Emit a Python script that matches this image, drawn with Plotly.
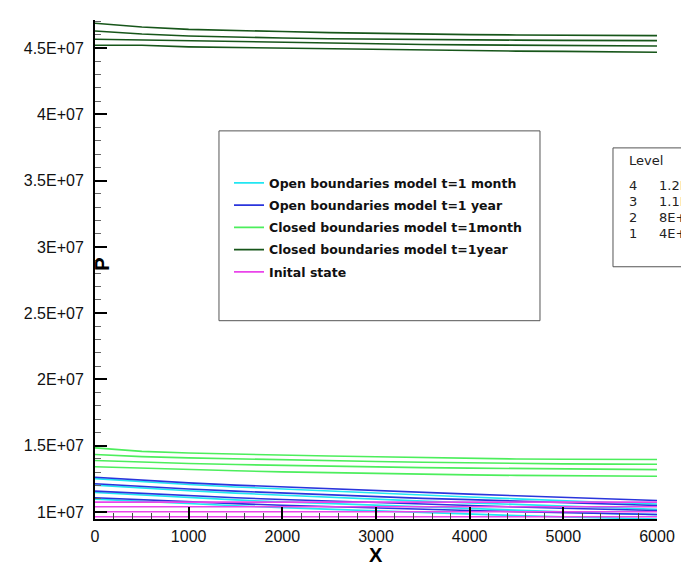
import plotly.graph_objects as go

# ---------------- data ----------------
x_pos = [0, 500, 1000, 1500, 2000, 2500, 3000, 3500, 4000, 4500, 5000, 5500, 6000]

# Open boundaries model t=1 month (cyan), 4 contour levels
open_month = [
    [1.252e7, 1.228e7, 1.207e7, 1.189e7, 1.173e7, 1.159e7, 1.141e7, 1.126e7, 1.113e7, 1.099e7, 1.084e7, 1.071e7, 1.060e7],
    [1.203e7, 1.180e7, 1.160e7, 1.142e7, 1.126e7, 1.112e7, 1.096e7, 1.082e7, 1.069e7, 1.056e7, 1.043e7, 1.031e7, 1.021e7],
    [1.147e7, 1.127e7, 1.108e7, 1.091e7, 1.076e7, 1.063e7, 1.049e7, 1.036e7, 1.024e7, 1.012e7, 1.000e7, 0.989e7, 0.980e7],
    [1.097e7, 1.079e7, 1.062e7, 1.047e7, 1.033e7, 1.020e7, 1.007e7, 0.995e7, 0.984e7, 0.973e7, 0.963e7, 0.954e7, 0.946e7],
]
# Open boundaries model t=1 year (blue)
open_year = [
    [1.262e7, 1.240e7, 1.220e7, 1.203e7, 1.189e7, 1.176e7, 1.158e7, 1.145e7, 1.135e7, 1.122e7, 1.109e7, 1.097e7, 1.087e7],
    [1.213e7, 1.192e7, 1.173e7, 1.157e7, 1.143e7, 1.130e7, 1.115e7, 1.103e7, 1.093e7, 1.081e7, 1.069e7, 1.058e7, 1.049e7],
    [1.157e7, 1.139e7, 1.122e7, 1.107e7, 1.094e7, 1.082e7, 1.069e7, 1.058e7, 1.049e7, 1.038e7, 1.028e7, 1.019e7, 1.011e7],
    [1.107e7, 1.091e7, 1.076e7, 1.063e7, 1.051e7, 1.040e7, 1.029e7, 1.019e7, 1.011e7, 1.002e7, 0.994e7, 0.987e7, 0.981e7],
]
# Closed boundaries model t=1month (light green)
closed_month = [
    [1.484e7, 1.457e7, 1.445e7, 1.437e7, 1.427e7, 1.422e7, 1.417e7, 1.410e7, 1.404e7, 1.400e7, 1.398e7, 1.396e7, 1.396e7],
    [1.434e7, 1.418e7, 1.408e7, 1.400e7, 1.392e7, 1.386e7, 1.381e7, 1.375e7, 1.370e7, 1.366e7, 1.363e7, 1.361e7, 1.360e7],
    [1.388e7, 1.375e7, 1.366e7, 1.358e7, 1.351e7, 1.345e7, 1.340e7, 1.335e7, 1.331e7, 1.327e7, 1.324e7, 1.322e7, 1.320e7],
    [1.341e7, 1.330e7, 1.320e7, 1.311e7, 1.303e7, 1.296e7, 1.290e7, 1.284e7, 1.280e7, 1.276e7, 1.273e7, 1.271e7, 1.270e7],
]
# Closed boundaries model t=1year (dark green)
closed_year = [
    [4.688e7, 4.660e7, 4.642e7, 4.632e7, 4.626e7, 4.618e7, 4.612e7, 4.605e7, 4.603e7, 4.600e7, 4.598e7, 4.596e7, 4.595e7],
    [4.630e7, 4.607e7, 4.592e7, 4.583e7, 4.577e7, 4.572e7, 4.568e7, 4.565e7, 4.563e7, 4.561e7, 4.559e7, 4.558e7, 4.557e7],
    [4.568e7, 4.562e7, 4.555e7, 4.548e7, 4.542e7, 4.537e7, 4.532e7, 4.528e7, 4.525e7, 4.523e7, 4.521e7, 4.519e7, 4.517e7],
    [4.522e7, 4.522e7, 4.510e7, 4.505e7, 4.499e7, 4.495e7, 4.491e7, 4.486e7, 4.481e7, 4.478e7, 4.476e7, 4.473e7, 4.470e7],
]
# Inital state (magenta), constant levels
initial_state = [1.074e7, 1.039e7, 1.002e7, 0.964e7]

series_names = [
    "Open boundaries model t=1 month",
    "Open boundaries model t=1 year",
    "Closed boundaries model t=1month",
    "Closed boundaries model t=1year",
    "Inital state",
]

y_tick_vals = [1e7, 1.5e7, 2e7, 2.5e7, 3e7, 3.5e7, 4e7, 4.5e7]
y_tick_text = ["1E+07", "1.5E+07", "2E+07", "2.5E+07", "3E+07", "3.5E+07", "4E+07", "4.5E+07"]
x_tick_vals = [0, 1000, 2000, 3000, 4000, 5000, 6000]

level_ids = ["4", "3", "2", "1"]
level_vals = ["1.2E+07", "1.1E+07", "8E+06", "4E+06"]

# ---------------- styles ----------------
colors = ["#22e6f2", "#2a35dc", "#4cee5c", "#17561a", "#ea44ea"]

fig = go.Figure()

groups = [open_month, open_year, closed_month, closed_year,
          [[v] * len(x_pos) for v in initial_state]]

for gi, (name, lines, col) in enumerate(zip(series_names, groups, colors)):
    for li, ys in enumerate(lines):
        fig.add_trace(go.Scatter(
            x=x_pos, y=ys, mode="lines",
            line=dict(color=col, width=1.6),
            name=name, legendgroup=f"g{gi}",
            showlegend=(li == 0), hoverinfo="skip",
        ))

tick_font = dict(family="Liberation Sans, Arial, sans-serif", size=16, color="#111")

fig.update_layout(
    width=681, height=567,
    margin=dict(l=95, r=24, t=20, b=47.5),
    paper_bgcolor="white", plot_bgcolor="white",
    showlegend=True,
    legend=dict(
        x=(229 - 95) / 562, y=0.703, xanchor="left", yanchor="top",
        bgcolor="rgba(0,0,0,0)", borderwidth=0,
        tracegroupgap=3, traceorder="grouped",
        font=dict(family="DejaVu Sans, sans-serif", size=12.5, color="#111", weight="bold"),
    ),
    xaxis=dict(
        range=[0, 6000], showgrid=False, zeroline=False, automargin=False,
        showline=True, linecolor="black", linewidth=2,
        tickmode="array", tickvals=x_tick_vals,
        ticks="inside", ticklen=12, tickwidth=2, tickcolor="black",
        tickfont=tick_font, ticklabelstandoff=2,
        minor=dict(tickmode="linear", tick0=0, dtick=200, ticks="inside",
                   ticklen=6, tickwidth=1, tickcolor="#444"),
    ),
    yaxis=dict(
        range=[9.47e6, 4.713e7], showgrid=False, zeroline=False, automargin=False,
        showline=True, linecolor="black", linewidth=2,
        tickmode="array", tickvals=y_tick_vals, ticktext=y_tick_text,
        ticks="inside", ticklen=12, tickwidth=2, tickcolor="black",
        tickfont=tick_font, ticklabelstandoff=6,
        minor=dict(tickmode="linear", tick0=0, dtick=1e6, ticks="inside",
                   ticklen=6, tickwidth=1, tickcolor="#666"),
    ),
)

# legend frame
fig.add_shape(type="rect", xref="paper", yref="paper",
              x0=0.2206, x1=0.7918, y0=0.3974, y1=0.7778,
              line=dict(color="#555", width=1), fillcolor="rgba(0,0,0,0)")

# Level box (clipped by page edge)
fig.add_shape(type="rect", xref="paper", yref="paper",
              x0=0.9217, x1=1.25, y0=0.5055, y1=0.7437,
              line=dict(color="#555", width=1), fillcolor="white")

lvl_font = dict(family="DejaVu Sans, sans-serif", size=13, color="#222")
fig.add_annotation(xref="paper", yref="paper", x=(627 - 95) / 562, y=(519.5 - 161) / 499.5,
                   text="Level", showarrow=False, xanchor="left", yanchor="middle", font=lvl_font)
for i, (lid, lv) in enumerate(zip(level_ids, level_vals)):
    yy = (519.5 - (186 + 16 * i)) / 499.5
    fig.add_annotation(xref="paper", yref="paper", x=(627 - 95) / 562, y=yy,
                       text=lid, showarrow=False, xanchor="left", yanchor="middle", font=lvl_font)
    fig.add_annotation(xref="paper", yref="paper", x=(657 - 95) / 562, y=yy,
                       text=lv, showarrow=False, xanchor="left", yanchor="middle", font=lvl_font)

# axis titles
title_font = dict(family="Liberation Sans, Arial, sans-serif", size=20, color="black")
fig.add_annotation(xref="paper", yref="paper", x=(376 - 95) / 562, y=(519.5 - 556) / 499.5,
                   text="<b>X</b>", showarrow=False, xanchor="center", yanchor="middle", font=title_font)
fig.add_annotation(xref="paper", yref="paper", x=(102 - 95) / 562, y=(519.5 - 265) / 499.5,
                   text="<b>P</b>", showarrow=False, xanchor="center", yanchor="middle",
                   textangle=-90, font=title_font)

fig.write_html("out.html", config={"displayModeBar": False},
               post_script="document.body.style.margin='0';document.body.style.padding='0';")
